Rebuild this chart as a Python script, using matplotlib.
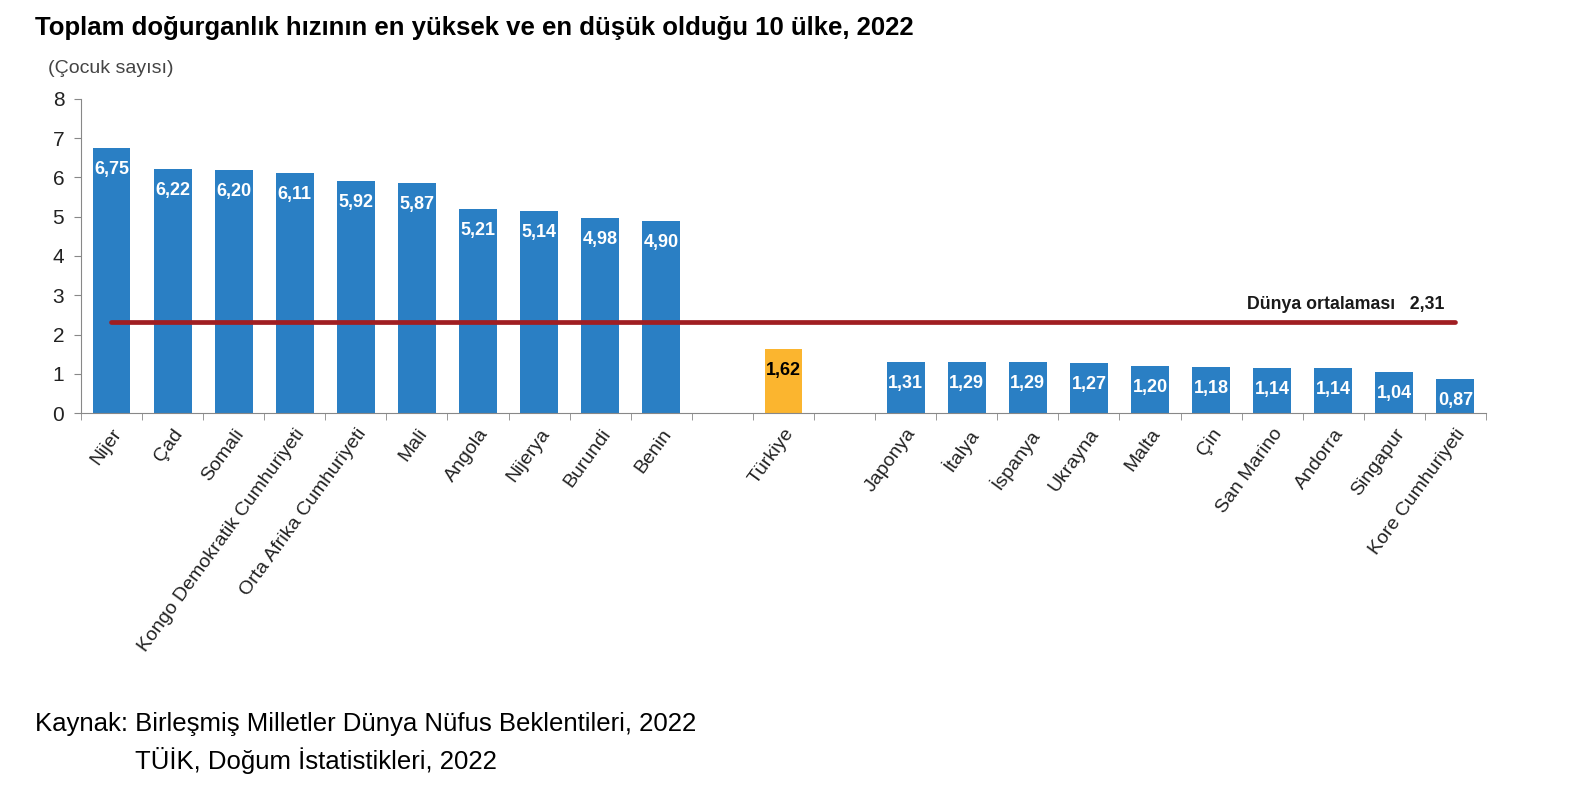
import numpy as np
import matplotlib.pyplot as plt

plt.rcParams['font.family'] = ['Liberation Sans', 'DejaVu Sans']

high_names = ["Nijer", "Çad", "Somali", "Kongo Demokratik Cumhuriyeti", "Orta Afrika Cumhuriyeti",
              "Mali", "Angola", "Nijerya", "Burundi", "Benin"]
high_vals = [6.75, 6.22, 6.20, 6.11, 5.92, 5.87, 5.21, 5.14, 4.98, 4.90]
tr_name = "Türkiye"
tr_val = 1.62
low_names = ["Japonya", "İtalya", "İspanya", "Ukrayna", "Malta", "Çin", "San Marino",
             "Andorra", "Singapur", "Kore Cumhuriyeti"]
low_vals = [1.31, 1.29, 1.29, 1.27, 1.20, 1.18, 1.14, 1.14, 1.04, 0.87]
world_avg = 2.31

blue = "#2A7FC4"
orange = "#FBB52F"
red = "#A01E22"

# slots: 10 high, gap, Türkiye, gap, 10 low
x_high = np.arange(10)
x_tr = 11
x_low = np.arange(13, 23)
names = high_names + [tr_name] + low_names
xs = list(x_high) + [x_tr] + list(x_low)

fig = plt.figure(figsize=(15.84, 7.9), dpi=100)
ax = fig.add_axes([0.0511, 0.4772, 0.887, 0.3975])

w = 0.62
ax.bar(x_high, high_vals, width=w, color=blue, zorder=2)
ax.bar([x_tr], [tr_val], width=w, color=orange, zorder=2)
ax.bar(x_low, low_vals, width=w, color=blue, zorder=2)

for x, v in zip(list(x_high) + list(x_low), high_vals + low_vals):
    ax.annotate(f"{v:.2f}".replace(".", ","), (x, v), xytext=(0, -15.5), textcoords="offset points",
                ha="center", va="center", color="white", fontsize=13, fontweight="bold", zorder=4)
ax.annotate(f"{tr_val:.2f}".replace(".", ","), (x_tr, tr_val), xytext=(0, -15.5), textcoords="offset points",
            ha="center", va="center", color="black", fontsize=13, fontweight="bold", zorder=4)

# world average line
ax.plot([xs[0], xs[-1]], [world_avg, world_avg], color=red, lw=3.4, zorder=3, solid_capstyle="round")
ax.annotate("Dünya ortalaması   " + f"{world_avg:.2f}".replace(".", ","), (xs[-1], world_avg),
            xytext=(-8, 13), textcoords="offset points", ha="right", va="center",
            fontsize=12.8, fontweight="bold", color="#1a1a1a")

ax.set_xlim(-0.5, 22.5)
ax.set_ylim(0, 8)
ax.set_yticks(range(0, 9))
ax.tick_params(axis="y", labelsize=15, length=5, color="#888888", labelcolor="#222222", pad=7)

ax.set_xticks(xs)
ax.set_xticklabels(names, rotation=54, ha="right", rotation_mode="anchor", fontsize=14, color="#222222")
ax.tick_params(axis="x", which="major", length=0, pad=9)
ax.set_xticks(np.arange(-0.5, 23, 1), minor=True)
ax.tick_params(axis="x", which="minor", length=5, color="#888888")

for s in ["top", "right"]:
    ax.spines[s].set_visible(False)
for s in ["left", "bottom"]:
    ax.spines[s].set_color("#888888")

fig.text(0.022, 0.965, "Toplam doğurganlık hızının en yüksek ve en düşük olduğu 10 ülke, 2022",
         fontsize=18.5, fontweight="bold", va="center", ha="left")
fig.text(0.030, 0.913, "(Çocuk sayısı)", fontsize=14, color="#444444", va="center", ha="left")
fig.text(0.022, 0.083, "Kaynak: Birleşmiş Milletler Dünya Nüfus Beklentileri, 2022",
         fontsize=18.5, va="center", ha="left")
fig.text(0.085, 0.037, "TÜİK, Doğum İstatistikleri, 2022", fontsize=18.5, va="center", ha="left")

fig.savefig("out.png", dpi=100)
